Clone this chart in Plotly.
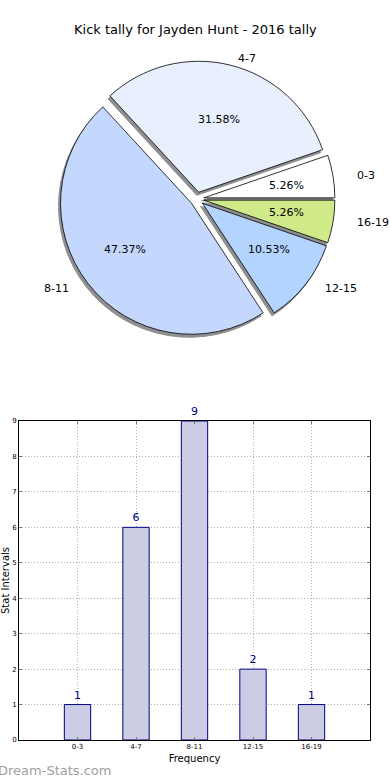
import math
import plotly.graph_objects as go

categories = ["0-3", "4-7", "8-11", "12-15", "16-19"]
values = [1, 6, 9, 2, 1]
pie_colors = ["#ffffff", "#e8f0fe", "#c4d8fe", "#b3d4fe", "#d0ea8a"]
title = "Kick tally for Jayden Hunt - 2016 tally"

W, H = 390, 780
# pie geometry (pixels)
CX, CY, R = 197, 199, 131
RX, RY = 139, 126   # text placement radii (original pie is slightly elliptical)
PULL = 0.053
half = R * (1 + PULL)
pie_dom_x = [(CX - half) / W, (CX + half) / W]
pie_dom_y = [1 - (CY + half) / H, 1 - (CY - half) / H]
total = sum(values)
rotation = 90 - 360 * values[0] / total
pull = [PULL] * len(values)

fig = go.Figure()

# shadow
fig.add_trace(go.Pie(
    labels=categories, values=values, sort=False, direction="counterclockwise",
    rotation=rotation, pull=pull,
    marker=dict(colors=["#8f8f8f"] * 5, line=dict(color="#8f8f8f", width=1)),
    textinfo="none", hoverinfo="skip", showlegend=False,
    domain=dict(x=[pie_dom_x[0] - 2 / W, pie_dom_x[1] - 2 / W],
                y=[pie_dom_y[0] - 3 / H, pie_dom_y[1] - 3 / H]),
))
# main pie
fig.add_trace(go.Pie(
    labels=categories, values=values, sort=False, direction="counterclockwise",
    rotation=rotation, pull=pull,
    marker=dict(colors=pie_colors, line=dict(color="#000000", width=0.8)),
    textinfo="none", showlegend=False,
    domain=dict(x=pie_dom_x, y=pie_dom_y),
))

# labels and percentages (matplotlib-style positions derived from the data)
annotations = []
start = 0.0
for cat, v in zip(categories, values):
    frac = v / total
    mid = math.radians((start + frac / 2) * 360)
    start += frac
    px = CX + (0.6 + PULL) * RX * math.cos(mid)
    py = CY - (0.6 + PULL) * RY * math.sin(mid)
    annotations.append(dict(text=f"{frac * 100:.2f}%", x=px / W, y=1 - py / H, xref="paper", yref="paper",
                            xanchor="center", yanchor="middle", showarrow=False,
                            font=dict(size=11, color="#000000", family="DejaVu Sans")))
    lx = CX + (1.1 + PULL) * RX * math.cos(mid)
    ly = CY - (1.1 + PULL) * RY * math.sin(mid)
    annotations.append(dict(text=cat, x=lx / W, y=1 - ly / H, xref="paper", yref="paper",
                            xanchor="left" if math.cos(mid) >= 0 else "right", yanchor="middle",
                            showarrow=False, font=dict(size=11, color="#000000", family="DejaVu Sans")))

annotations.append(dict(text=title, x=0.5, y=1 - 30 / H, xref="paper", yref="paper",
                        xanchor="center", yanchor="middle", showarrow=False,
                        font=dict(size=13, color="#000000", family="DejaVu Sans")))
annotations.append(dict(text="Dream-Stats.com", x=-4 / W, y=1 - 770 / H, xref="paper", yref="paper",
                        xanchor="left", yanchor="middle", showarrow=False,
                        font=dict(size=13, color="#a0a0a0", family="DejaVu Sans")))

fig.add_trace(go.Bar(
    x=list(range(len(categories))), y=values, width=0.45,
    marker=dict(color="#cccce4", line=dict(color="#000080", width=1)),
    text=[str(v) for v in values], textposition="outside", cliponaxis=False,
    textfont=dict(color="#000080", size=11, family="DejaVu Sans"),
    showlegend=False, xaxis="x", yaxis="y",
))

grid = dict(showgrid=True, gridcolor="#b0b0b0", griddash="1px,2px", gridwidth=1)
fig.update_layout(
    width=W, height=H, margin=dict(l=0, r=0, t=0, b=0, pad=0, autoexpand=False),
    paper_bgcolor="white", plot_bgcolor="white",
    font=dict(family="DejaVu Sans", color="#000000"),
    xaxis=dict(domain=[19 / W, 370 / W], range=[-1, 5], tickmode="array",
               tickvals=list(range(len(categories))), ticktext=categories,
               tickfont=dict(size=7), showline=True, mirror="ticks", linecolor="black", linewidth=1,
               ticks="inside", ticklen=3, tickcolor="#777777", zeroline=False, automargin=False,
               title=dict(text="Frequency", font=dict(size=10), standoff=4), **grid),
    yaxis=dict(domain=[1 - 740 / H, 1 - 421 / H], range=[0, 9], dtick=1,
               tickfont=dict(size=7), showline=True, mirror="ticks", linecolor="black", linewidth=1,
               ticks="inside", ticklen=3, tickcolor="#777777", zeroline=False, automargin=False,
               title=dict(text="Stat Intervals", font=dict(size=10), standoff=2), **grid),
    annotations=annotations,
)

fig.write_html("out.html", config={"displayModeBar": False},
               post_script="document.body.style.margin='0';")
